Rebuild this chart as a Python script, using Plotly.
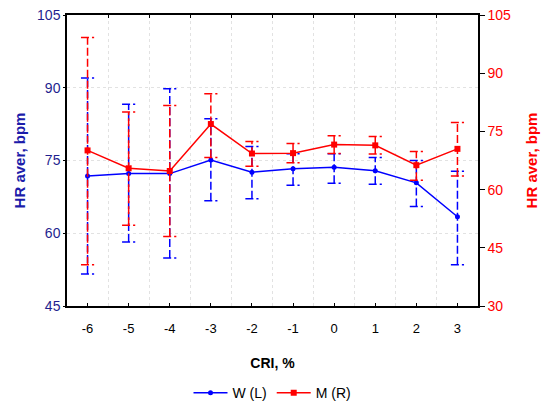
import plotly.graph_objects as go

# CRI categories (x axis)
cri = [-6, -5, -4, -3, -2, -1, 0, 1, 2, 3]

# W (left axis): mean and whisker ends
w_mean = [71.8, 72.3, 72.3, 75.1, 72.6, 73.3, 73.6, 72.9, 70.4, 63.4]
w_hi = [92.0, 86.6, 89.8, 83.6, 77.9, 76.4, 76.4, 75.6, 75.0, 72.8]
w_lo = [51.6, 58.2, 54.9, 66.7, 67.1, 69.9, 70.3, 70.1, 65.5, 53.5]

# M (right axis): mean and whisker ends
m_mean = [70.1, 65.5, 64.8, 76.9, 69.3, 69.4, 71.6, 71.4, 66.3, 70.5]
m_hi = [99.2, 80.0, 81.7, 84.7, 72.4, 71.9, 73.9, 73.7, 69.8, 77.3]
m_lo = [40.6, 50.8, 47.9, 68.3, 66.0, 66.9, 69.3, 69.2, 62.4, 63.5]

left_ticks = [45, 60, 75, 90, 105]
right_ticks = [30, 45, 60, 75, 90, 105]

BLUE = "#0000ff"
RED = "#ff0000"
CAP = 0.16
FONT = "Liberation Sans, Arial, sans-serif"
GRID = "#e2e2e2"


def whiskers(xs, lo, hi):
    # vertical dashed whisker plus a cap at each end
    vx, vy = [], []
    for x, a, b in zip(xs, lo, hi):
        vx += [x, x, None, x - CAP, x + CAP, None, x - CAP, x + CAP, None]
        vy += [a, b, None, a, a, None, b, b, None]
    return vx, vy


fig = go.Figure()

bx, by = whiskers(cri, w_lo, w_hi)
fig.add_trace(go.Scatter(x=bx, y=by, mode="lines", showlegend=False, hoverinfo="skip",
                         line=dict(color=BLUE, width=1.5, dash="8px,3px")))
rx, ry = whiskers(cri, m_lo, m_hi)
fig.add_trace(go.Scatter(x=rx, y=ry, mode="lines", showlegend=False, hoverinfo="skip",
                         yaxis="y2", line=dict(color=RED, width=1.5, dash="8px,3px")))

fig.add_trace(go.Scatter(x=cri, y=w_mean, mode="lines+markers", name="W (L)",
                         line=dict(color=BLUE, width=1.5),
                         marker=dict(symbol="circle", size=5, color=BLUE)))
fig.add_trace(go.Scatter(x=cri, y=m_mean, mode="lines+markers", name="M (R)", yaxis="y2",
                         line=dict(color=RED, width=1.5),
                         marker=dict(symbol="square", size=6, color=RED)))

# invisible trace to activate the top axis (gridlines at category borders)
fig.add_trace(go.Scatter(x=[cri[0]], y=[w_mean[0]], xaxis="x2", mode="markers",
                         marker=dict(opacity=0), showlegend=False, hoverinfo="skip"))

borders = [c + 0.5 for c in cri[:-1]]

# the page body adds an 8px offset, margins compensate for it
fig.update_layout(
    width=550, height=407,
    margin=dict(l=59, r=80, t=7, b=108),
    paper_bgcolor="white", plot_bgcolor="white",
    font=dict(family=FONT, size=13, color="black"),
    showlegend=True,
    legend=dict(orientation="h", x=0.5, xanchor="center", y=-0.295, yanchor="middle",
                font=dict(size=14), itemwidth=34, tracegroupgap=0),
    xaxis=dict(
        range=[-6.5, 3.5], tickvals=cri, ticktext=[str(c) for c in cri],
        ticks="inside", ticklen=3, tickcolor="black", ticklabelstandoff=10,
        showline=True, linecolor="black", linewidth=1.5, showgrid=False, zeroline=False,
        automargin=False, ticklabeloverflow="allow",
        title=dict(text="<b>CRI, %</b>", font=dict(size=14), standoff=23),
    ),
    xaxis2=dict(
        range=[-6.5, 3.5], overlaying="x", side="top", tickvals=borders,
        showticklabels=False, ticks="inside", ticklen=3, tickcolor="black",
        showline=True, linecolor="black", linewidth=1.5, automargin=False,
        showgrid=True, gridcolor=GRID, griddash="dot", gridwidth=1, zeroline=False,
    ),
    yaxis=dict(
        range=[45, 105], tickvals=left_ticks, ticks="outside", ticklen=2, tickcolor="black",
        tickfont=dict(color="#1f1f8f", size=14), automargin=False, ticklabeloverflow="allow",
        showline=True, linecolor="black", linewidth=1.5,
        showgrid=True, gridcolor=GRID, griddash="dot", gridwidth=1, zeroline=False,
        title=dict(text="<b>HR aver, bpm</b>", font=dict(color="#1c1caa", size=15), standoff=8),
    ),
    yaxis2=dict(
        range=[30, 105], tickvals=right_ticks, overlaying="y", side="right",
        ticks="outside", ticklen=5, tickcolor="black", automargin=False,
        tickfont=dict(color=RED, size=14), ticklabeloverflow="allow",
        showline=True, linecolor="black", linewidth=1.5, showgrid=False, zeroline=False,
        title=dict(text="<b>HR aver, bpm</b>", font=dict(color=RED, size=15), standoff=16),
    ),
)

fig.write_html("out.html")
